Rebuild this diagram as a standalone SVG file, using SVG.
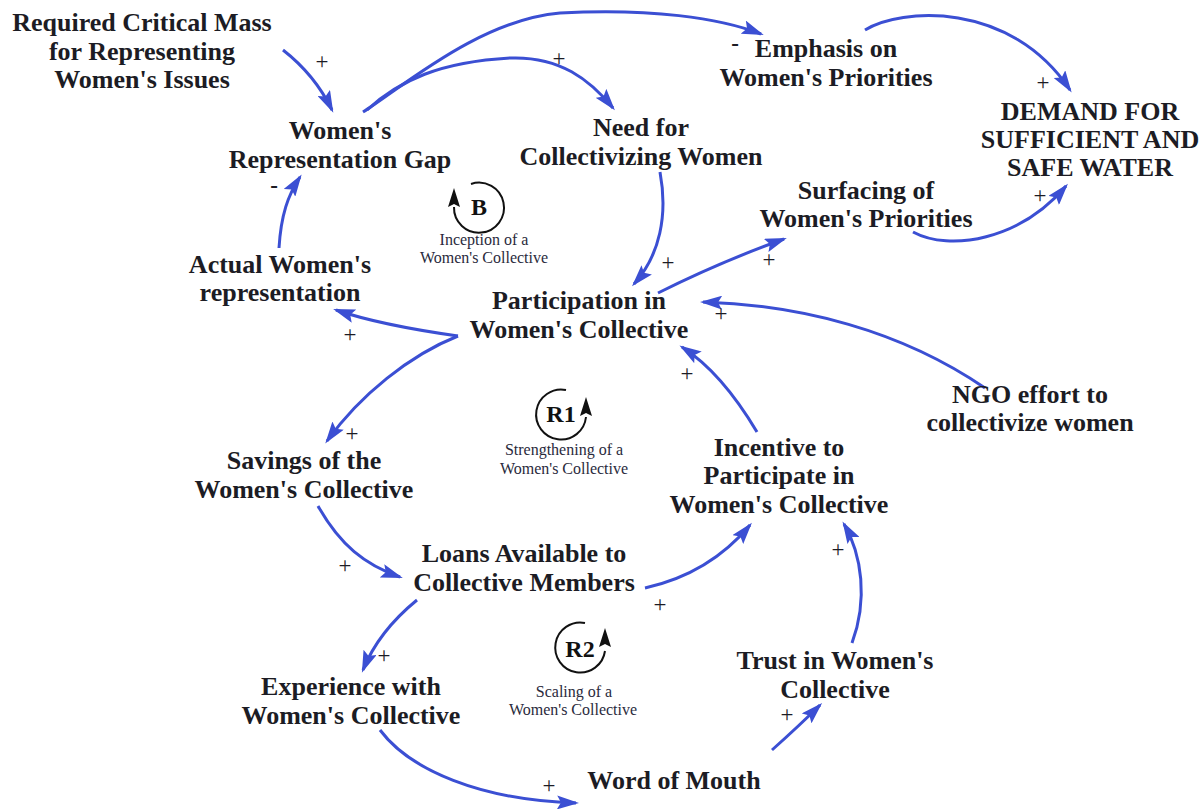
<svg xmlns="http://www.w3.org/2000/svg" width="1204" height="809" viewBox="0 0 1204 809">
<defs>
<style>
.n{font-family:"Liberation Serif","Times New Roman",serif;font-weight:bold;font-size:26px;fill:#1c1c24;text-anchor:middle}
.p{font-family:"Liberation Serif","Times New Roman",serif;font-size:23px;fill:#1c1c24;text-anchor:middle}
.m{font-family:"Liberation Serif","Times New Roman",serif;font-weight:bold;font-size:23px;fill:#1c1c24;text-anchor:middle}
.lp{font-family:"Liberation Serif","Times New Roman",serif;font-weight:bold;font-size:24px;fill:#111;text-anchor:middle}
.ll{font-family:"Liberation Serif","Times New Roman",serif;font-size:16px;fill:#2a2a3c;text-anchor:middle}
.c{fill:none;stroke:#3b4fd3;stroke-width:3;marker-end:url(#ah)}
.la{fill:none;stroke:#111;stroke-width:2}
</style>
<marker id="ah" markerUnits="userSpaceOnUse" viewBox="0 0 22 14" refX="19" refY="7" markerWidth="22" markerHeight="14" orient="auto">
<path d="M0,0 L22,7 L0,14 L4,7 Z" fill="#3b4fd3"/>
</marker>
</defs>

<g id="connectors">
<path class="c" d="M283,50 Q315,75 332,110"/>
<path class="c" d="M363,112 C405,85 480,20 560,13 C650,8 720,18 761,34"/>
<path class="c" d="M367,110 C400,80 440,62 510,58 C560,56 590,80 613,108"/>
<path class="c" d="M865,30 C900,8 1010,0 1070,90"/>
<path class="c" d="M913,232 C950,252 1020,240 1066,186"/>
<path class="c" d="M660,172 C668,215 660,255 634,284"/>
<path class="c" d="M658,293 Q720,262 784,239"/>
<path class="c" d="M985,388 C900,330 800,305 703,302"/>
<path class="c" d="M757,432 C735,395 710,365 682,347"/>
<path class="c" d="M458,336 Q380,325 336,310"/>
<path class="c" d="M458,336 C410,355 360,395 327,441"/>
<path class="c" d="M279,248 C281,215 288,195 300,177"/>
<path class="c" d="M318,506 C340,545 365,565 400,577"/>
<path class="c" d="M645,588 C690,578 725,555 750,525"/>
<path class="c" d="M417,600 C395,618 375,640 363,670"/>
<path class="c" d="M380,730 C410,770 480,800 576,803"/>
<path class="c" d="M772,750 Q800,725 820,705"/>
<path class="c" d="M852,643 C868,600 862,555 844,524"/>
</g>

<g id="polarities">
<text class="p" x="322" y="69">+</text>
<text class="p" x="559" y="66">+</text>
<text class="m" x="735" y="51">-</text>
<text class="p" x="1043" y="90">+</text>
<text class="p" x="1040" y="203">+</text>
<text class="p" x="668" y="270">+</text>
<text class="p" x="769" y="267">+</text>
<text class="p" x="721" y="321">+</text>
<text class="p" x="687" y="381">+</text>
<text class="m" x="274" y="193">-</text>
<text class="p" x="350" y="342">+</text>
<text class="p" x="352" y="441">+</text>
<text class="p" x="345" y="573">+</text>
<text class="p" x="660" y="612">+</text>
<text class="p" x="384" y="663">+</text>
<text class="p" x="838" y="557">+</text>
<text class="p" x="787" y="722">+</text>
<text class="p" x="549" y="793">+</text>
</g>

<g id="required-critical-mass"><text class="n" x="142" y="31">Required Critical Mass</text><text class="n" x="142" y="60">for Representing</text><text class="n" x="142" y="88">Women's Issues</text></g>
<g id="representation-gap"><text class="n" x="340" y="139">Women's</text><text class="n" x="340" y="168">Representation Gap</text></g>
<g id="need-for-collectivizing"><text class="n" x="641" y="136">Need for</text><text class="n" x="641" y="165">Collectivizing Women</text></g>
<g id="emphasis"><text class="n" x="826" y="57">Emphasis on</text><text class="n" x="826" y="86">Women's Priorities</text></g>
<g id="demand"><text class="n" x="1090" y="120">DEMAND FOR</text><text class="n" x="1090" y="148">SUFFICIENT AND</text><text class="n" x="1090" y="176">SAFE WATER</text></g>
<g id="surfacing"><text class="n" x="866" y="199">Surfacing of</text><text class="n" x="866" y="227">Women's Priorities</text></g>
<g id="actual-representation"><text class="n" x="280" y="273">Actual Women's</text><text class="n" x="280" y="301">representation</text></g>
<g id="participation"><text class="n" x="579" y="309">Participation in</text><text class="n" x="579" y="338">Women's Collective</text></g>
<g id="ngo-effort"><text class="n" x="1030" y="403">NGO effort to</text><text class="n" x="1030" y="431">collectivize women</text></g>
<g id="incentive"><text class="n" x="779" y="456">Incentive to</text><text class="n" x="779" y="484">Participate in</text><text class="n" x="779" y="513">Women's Collective</text></g>
<g id="savings"><text class="n" x="304" y="469">Savings of the</text><text class="n" x="304" y="498">Women's Collective</text></g>
<g id="loans"><text class="n" x="524" y="562">Loans Available to</text><text class="n" x="524" y="591">Collective Members</text></g>
<g id="experience"><text class="n" x="351" y="695">Experience with</text><text class="n" x="351" y="724">Women's Collective</text></g>
<g id="trust"><text class="n" x="835" y="669">Trust in Women's</text><text class="n" x="835" y="698">Collective</text></g>
<g id="word-of-mouth"><text class="n" x="674" y="789">Word of Mouth</text></g>

<g id="loop-b">
<path class="la" d="M454,207 A25,25 0 1 0 471,184"/>
<path d="M454,188 L460,207 L454,204 L448,207 Z" fill="#111"/>
<text class="lp" x="479" y="215">B</text>
<text class="ll" x="484" y="245">Inception of a</text>
<text class="ll" x="484" y="263">Women's Collective</text>
</g>
<g id="loop-r1">
<path class="la" d="M586,417 A25,25 0 1 1 566,390"/>
<path d="M586,397 L592,416 L586,413 L580,416 Z" fill="#111"/>
<text class="lp" x="561" y="422">R1</text>
<text class="ll" x="564" y="455">Strengthening of a</text>
<text class="ll" x="564" y="474">Women's Collective</text>
</g>
<g id="loop-r2">
<path class="la" d="M605,651 A25,25 0 1 1 585,623"/>
<path d="M605,628 L611,647 L605,644 L599,647 Z" fill="#111"/>
<text class="lp" x="580" y="657">R2</text>
<text class="ll" x="574" y="697">Scaling of a</text>
<text class="ll" x="573" y="715">Women's Collective</text>
</g>
</svg>
